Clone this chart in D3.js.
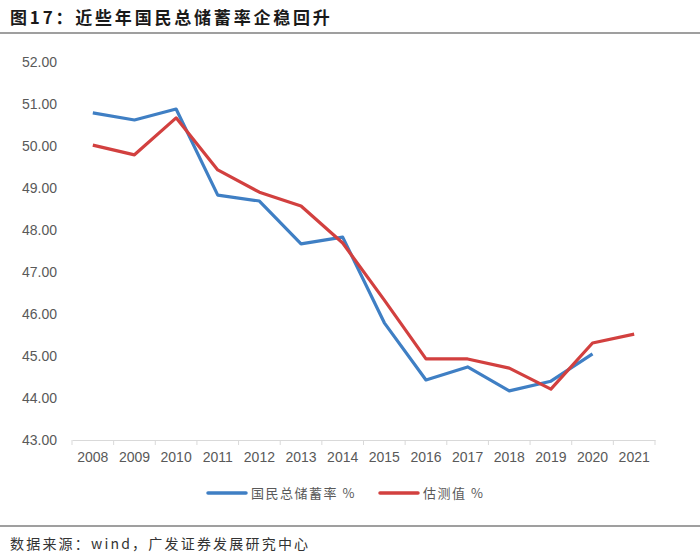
<!DOCTYPE html>
<html>
<head>
<meta charset="utf-8">
<script src="https://cdn.jsdelivr.net/npm/d3@7"></script>
<style>
  body { margin: 0; background: #fff; }
  svg { display: block; }
</style>
</head>
<body>
<div id="chart"></div>
<script>
const years = ["2008", "2009", "2010", "2011", "2012", "2013", "2014", "2015", "2016", "2017", "2018", "2019", "2020", "2021"];
const savingRate = [50.79, 50.62, 50.88, 48.83, 48.69, 47.67, 47.83, 45.79, 44.43, 44.74, 44.17, 44.40, 45.05, null];
const estimate = [50.02, 49.79, 50.67, 49.43, 48.90, 48.57, 47.69, 46.33, 44.93, 44.93, 44.71, 44.21, 45.31, 45.52];
const yTicks = [43, 44, 45, 46, 47, 48, 49, 50, 51, 52];

const width = 700, height = 559;
const margin = { left: 72, right: 45, top: 62, bottom: 118 };
const cn = "'Noto Sans CJK SC', sans-serif";
const latin = "'Liberation Sans', Arial, sans-serif";

const svg = d3.select("#chart").append("svg")
    .attr("width", width)
    .attr("height", height);

// title and rules
svg.append("text")
    .attr("x", 10).attr("y", 24)
    .attr("font-family", cn)
    .attr("font-weight", "bold")
    .attr("font-size", 17)
    .attr("letter-spacing", 2.8)
    .attr("fill", "#1a1a1a")
    .text("图17：近些年国民总储蓄率企稳回升");
svg.append("line").attr("x1", 0).attr("x2", width).attr("y1", 33).attr("y2", 33)
    .attr("stroke", "#7f7f7f").attr("stroke-width", 1.5);
svg.append("line").attr("x1", 0).attr("x2", width).attr("y1", 526).attr("y2", 526)
    .attr("stroke", "#7f7f7f").attr("stroke-width", 1.5);
svg.append("text")
    .attr("x", 10).attr("y", 549)
    .attr("font-family", cn)
    .attr("font-size", 14)
    .attr("letter-spacing", 2.2)
    .attr("fill", "#333")
    .text("数据来源：wind，广发证券发展研究中心");

const x = d3.scaleBand()
    .domain(years)
    .range([margin.left, width - margin.right]);

const y = d3.scaleLinear()
    .domain([43, 52])
    .range([height - margin.bottom - 1, margin.top]);

// y axis labels (no axis line)
const yAxis = svg.append("g")
    .attr("transform", `translate(${margin.left - 12},0)`)
    .call(d3.axisLeft(y).tickValues(yTicks).tickFormat(d3.format(".2f")).tickSize(0));
yAxis.select(".domain").remove();
yAxis.selectAll("text")
    .attr("font-family", latin)
    .attr("font-size", 14)
    .attr("fill", "#595959");

// x axis
const xAxis = svg.append("g")
    .attr("transform", `translate(0,${y(43)})`)
    .call(d3.axisBottom(x).tickSize(0).tickPadding(12));
xAxis.select(".domain").attr("stroke", "#d9d9d9");
xAxis.selectAll("text")
    .attr("font-family", latin)
    .attr("font-size", 14)
    .attr("fill", "#595959");
const bounds = years.map(d => x(d)).concat([x.range()[1]]);
xAxis.selectAll(".sep")
    .data(bounds)
    .join("line")
    .attr("class", "sep")
    .attr("x1", d => d).attr("x2", d => d)
    .attr("y1", 0).attr("y2", 5)
    .attr("stroke", "#d9d9d9");

const line = d3.line()
    .defined(d => d != null)
    .x((d, i) => x(years[i]) + x.bandwidth() / 2)
    .y(d => y(d));

const series = [
    { name: "国民总储蓄率 %", values: savingRate, color: "#3f7fc4" },
    { name: "估测值 %", values: estimate, color: "#d2403f" }
];

svg.append("g")
    .selectAll("path")
    .data(series)
    .join("path")
    .attr("fill", "none")
    .attr("stroke", d => d.color)
    .attr("stroke-width", 3.2)
    .attr("stroke-linejoin", "round")
    .attr("d", d => line(d.values));

// legend
const legendX = [208, 380];
const legend = svg.append("g")
    .selectAll("g")
    .data(series)
    .join("g")
    .attr("transform", (d, i) => `translate(${legendX[i]},493)`);
legend.append("line")
    .attr("x1", 0).attr("x2", 38)
    .attr("stroke", d => d.color)
    .attr("stroke-width", 3.5)
    .attr("stroke-linecap", "round");
legend.append("text")
    .attr("x", 43).attr("dy", "0.35em")
    .attr("font-family", cn)
    .attr("font-size", 13)
    .attr("letter-spacing", 1.5)
    .attr("fill", "#595959")
    .text(d => d.name);
</script>
</body>
</html>
